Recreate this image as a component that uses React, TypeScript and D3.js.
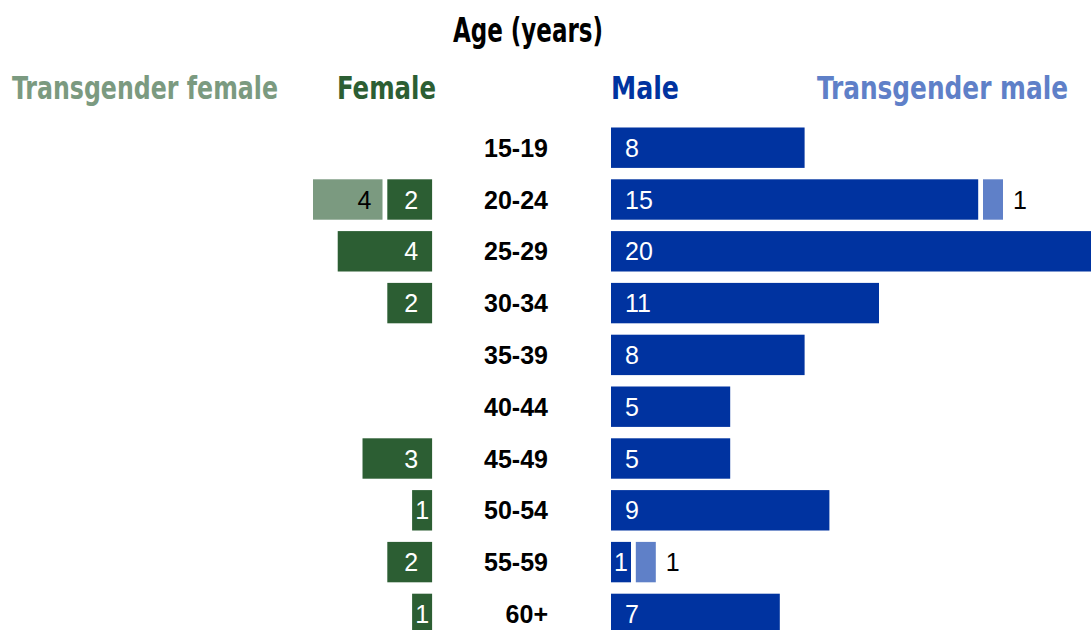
import * as d3 from "d3";

const ages = ["15-19", "20-24", "25-29", "30-34", "35-39", "40-44", "45-49", "50-54", "55-59", "60+"];
const male = [8, 15, 20, 11, 8, 5, 5, 9, 1, 7];
const transMale = [0, 1, 0, 0, 0, 0, 0, 0, 1, 0];
const female = [0, 2, 4, 2, 0, 0, 3, 1, 2, 1];
const transFemale = [0, 4, 0, 0, 0, 0, 0, 0, 0, 0];

const W = 1091;
const H = 630;
const GAP = 4.8;
const PAD = 14;

const C_MALE = "#0033a0";
const C_TMALE = "#5f80c8";
const C_FEMALE = "#2c5e33";
const C_TFEMALE = "#7b9a80";

const headFont = "'Liberation Sans Narrow', 'DejaVu Sans Condensed', Arial, sans-serif";
const bodyFont = "'Liberation Sans', Arial, sans-serif";

type Seg = { x: number; w: number; v: number; kind: string; row: string };

// condensed header text: smaller font stretched vertically, squeezed to the measured width
function Head(props: { x: number; y: number; w: number; size: number; sy: number; color?: string; children: string }) {
  return (
    <text transform={`translate(${props.x},${props.y}) scale(1,${props.sy})`} textLength={props.w}
      lengthAdjust="spacingAndGlyphs" fontFamily={headFont} fontWeight="bold" fontSize={props.size}
      fill={props.color ?? "#000"}>
      {props.children}
    </text>
  );
}

export default function App() {
  // female axis runs leftwards from its zero and stops at 4.9 (bars past it are clipped)
  const xF = d3.scaleLinear().domain([0, 4.9]).range([434.5, 313]);
  // male axis runs rightwards; the chart edge clips the longest bar
  const xM = d3.scaleLinear().domain([0, 20]).range([608.6, 608.6 + 496]);

  const y = d3.scaleBand<string>().domain(ages).range([121.8, 639.8]).paddingInner(0.22).paddingOuter(0.11);

  const segs: Seg[] = [];
  ages.forEach((a, i) => {
    if (female[i] > 0) {
      const x0 = xF(female[i]);
      segs.push({ x: x0 + GAP / 2, w: xF(0) - x0 - GAP, v: female[i], kind: "f", row: a });
    }
    if (transFemale[i] > 0) {
      const x0 = xF(female[i] + transFemale[i]);
      segs.push({ x: x0 + GAP / 2, w: xF(female[i]) - x0 - GAP, v: transFemale[i], kind: "tf", row: a });
    }
    if (male[i] > 0) {
      segs.push({ x: xM(0) + GAP / 2, w: xM(male[i]) - xM(0) - GAP, v: male[i], kind: "m", row: a });
    }
    if (transMale[i] > 0) {
      segs.push({ x: xM(male[i]) + GAP / 2, w: xM(male[i] + transMale[i]) - xM(male[i]) - GAP, v: transMale[i], kind: "tm", row: a });
    }
  });

  const fill: Record<string, string> = { f: C_FEMALE, tf: C_TFEMALE, m: C_MALE, tm: C_TMALE };

  const label = (s: Seg) => {
    const cy = (y(s.row) ?? 0) + y.bandwidth() / 2;
    const narrow = s.w < 40;
    let x = s.x + s.w / 2;
    let anchor = "middle";
    let color = "#fff";
    if (s.kind === "tm") {
      x = s.x + s.w + 10;
      anchor = "start";
      color = "#000";
    } else if (s.kind === "tf") {
      x = s.x + s.w - 11;
      anchor = "end";
      color = "#000";
    } else if (!narrow && s.kind === "m") {
      x = s.x + PAD;
      anchor = "start";
    } else if (!narrow && s.kind === "f") {
      x = s.x + s.w - PAD;
      anchor = "end";
    }
    return (
      <text key={"l" + s.kind + s.row} x={x} y={cy} dy="0.36em" textAnchor={anchor} fill={color}
        fontFamily={bodyFont} fontSize={25}>
        {s.v}
      </text>
    );
  };

  return (
    <svg width={W} height={H} style={{ position: "absolute", left: 0, top: 0, background: "#fff" }}>
      <defs>
        <clipPath id="plot">
          <rect x={xF(4.9)} y={0} width={W - xF(4.9)} height={H} />
        </clipPath>
      </defs>

      <Head x={453} y={42} w={150} size={29} sy={1.14}>Age (years)</Head>

      <Head x={12} y={98.5} w={266} size={27.5} sy={1.13} color={C_TFEMALE}>Transgender female</Head>
      <Head x={337} y={98.5} w={99} size={27.5} sy={1.13} color={C_FEMALE}>Female</Head>
      <Head x={611} y={98.5} w={68} size={27.5} sy={1.13} color={C_MALE}>Male</Head>
      <Head x={817} y={98.5} w={251} size={27.5} sy={1.13} color={C_TMALE}>Transgender male</Head>

      <g clipPath="url(#plot)">
        {segs.map((s) => (
          <rect key={s.kind + s.row} x={s.x} y={y(s.row)} width={Math.max(0, s.w)} height={y.bandwidth()}
            fill={fill[s.kind]} />
        ))}
      </g>
      <g clipPath="url(#plot)">{segs.map(label)}</g>

      {ages.map((a) => (
        <text key={a} x={548} y={(y(a) ?? 0) + y.bandwidth() / 2} dy="0.36em" textAnchor="end"
          fontFamily={bodyFont} fontWeight="bold" fontSize={25}>
          {a}
        </text>
      ))}
    </svg>
  );
}
